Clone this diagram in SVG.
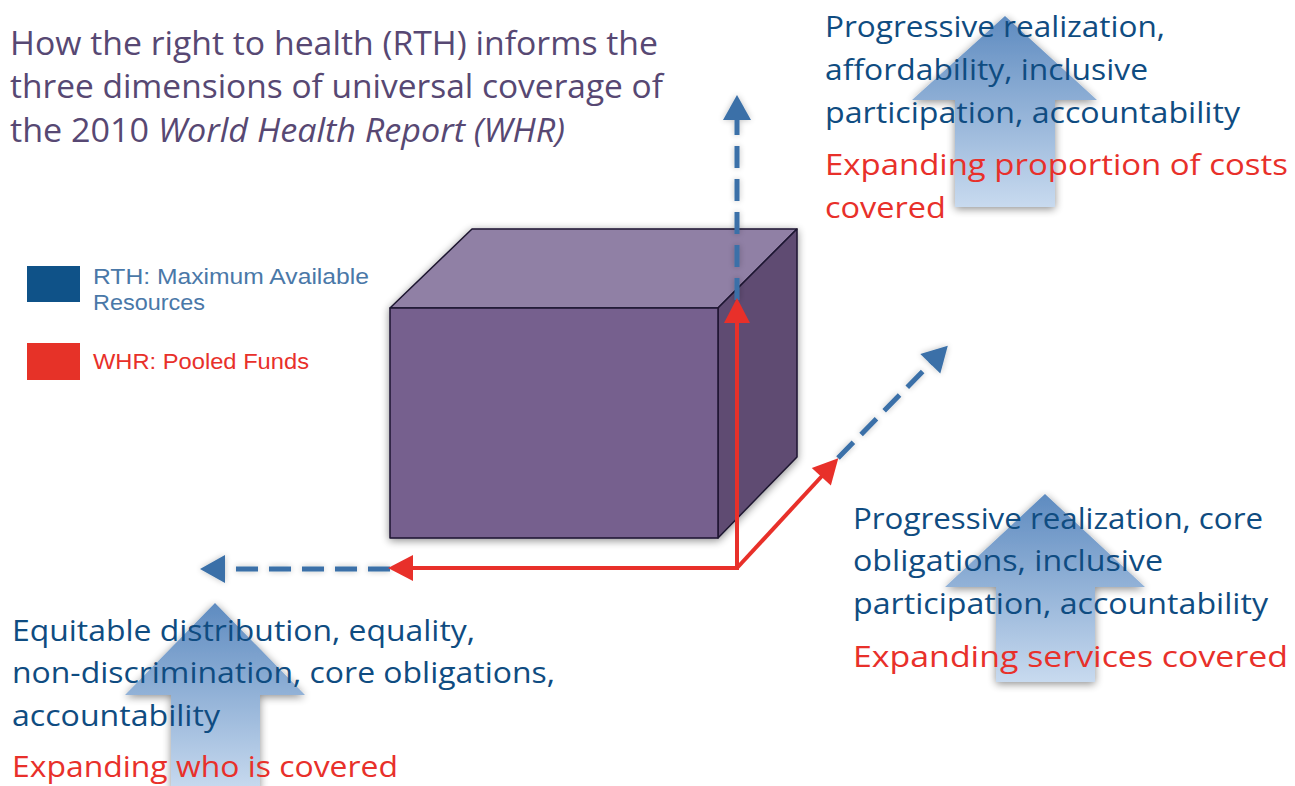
<svg xmlns="http://www.w3.org/2000/svg" width="1295" height="786" viewBox="0 0 1295 786">
  <style>
    .title { font-family: "Open Sans", "Liberation Sans", sans-serif; font-size: 32px; fill: #574873; }
    .body { font-family: "Open Sans", "Liberation Sans", sans-serif; font-size: 29px; fill: #0F4C81; }
    .red { fill: #E8302A; }
    .legend { font-family: "Liberation Sans", "Open Sans", sans-serif; font-size: 22px; }
    .blockarrow { fill: url(#bgrad); filter: url(#shadow); }
    .redline { stroke: #E8302A; stroke-width: 4; fill: none; }
    .blueline { stroke: #3A70A8; stroke-width: 5; fill: none; stroke-dasharray: 22 11; }
  </style>
  <defs>
    <linearGradient id="bgrad" x1="0" y1="0" x2="0" y2="1">
      <stop offset="0" stop-color="#5E8BC0"/>
      <stop offset="1" stop-color="#C8DAEF"/>
    </linearGradient>
    <filter id="shadow" x="-20%" y="-20%" width="140%" height="140%">
      <feGaussianBlur in="SourceAlpha" stdDeviation="4"/>
      <feOffset dx="0" dy="2" result="b"/>
      <feComponentTransfer><feFuncA type="linear" slope="0.45"/></feComponentTransfer>
      <feMerge><feMergeNode/><feMergeNode in="SourceGraphic"/></feMerge>
    </filter>
    <filter id="glow" x="-20%" y="-20%" width="140%" height="140%">
      <feGaussianBlur in="SourceAlpha" stdDeviation="3"/>
      <feComponentTransfer><feFuncA type="linear" slope="0.25"/></feComponentTransfer>
      <feMerge><feMergeNode/><feMergeNode in="SourceGraphic"/></feMerge>
    </filter>
    <marker id="redhead" markerUnits="userSpaceOnUse" markerWidth="30" markerHeight="30" refX="0" refY="0" orient="auto" overflow="visible">
      <path d="M-1,-13 L24,0 L-1,13 Z" fill="#E8302A"/>
    </marker>
    <marker id="bluehead" markerUnits="userSpaceOnUse" markerWidth="30" markerHeight="30" refX="0" refY="0" orient="auto" overflow="visible">
      <path d="M-1,-14 L24,0 L-1,14 Z" fill="#3A70A8"/>
    </marker>
  </defs>

  <rect width="1295" height="786" fill="#FFFFFF"/>

  <g id="title">
    <text class="title" x="10" y="55" textLength="648" lengthAdjust="spacingAndGlyphs">How the right to health (RTH) informs the</text>
    <text class="title" x="10" y="98" textLength="653" lengthAdjust="spacingAndGlyphs">three dimensions of universal coverage of</text>
    <text class="title" x="10" y="142" textLength="555" lengthAdjust="spacingAndGlyphs">the 2010 <tspan font-style="italic">World Health Report (WHR)</tspan></text>
  </g>

  <g id="legend">
    <rect x="27" y="266" width="53" height="36" fill="#0F5288"/>
    <text class="legend" x="93" y="284" fill="#4A78A8" textLength="276" lengthAdjust="spacingAndGlyphs">RTH: Maximum Available</text>
    <text class="legend" x="93" y="310" fill="#4A78A8" textLength="112" lengthAdjust="spacingAndGlyphs">Resources</text>
    <rect x="27" y="343" width="53" height="37" fill="#E63228"/>
    <text class="legend" x="93" y="369" fill="#E8302A" textLength="216" lengthAdjust="spacingAndGlyphs">WHR: Pooled Funds</text>
  </g>

  <g id="block-arrows">
    <polygon id="arrow-costs" class="blockarrow" points="1005,16 1097,100 1055,100 1055,207 955,207 955,100 912,100"/>
    <polygon id="arrow-services" class="blockarrow" points="1045,494 1145,587 1095,587 1095,682 996,682 996,587 945,587"/>
    <polygon id="arrow-who" class="blockarrow" points="215,603 305,695 260,695 260,790 171,790 171,695 125,695"/>
  </g>

  <g id="cube" filter="url(#shadow)" stroke="#1E1630" stroke-width="1.5" stroke-linejoin="round">
    <polygon points="390,308 472,229 797,229 718,308" fill="#9080A5"/>
    <polygon points="718,308 797,229 797,457 718,538" fill="#5E4C72"/>
    <rect x="390" y="308" width="328" height="230" fill="#76608E"/>
  </g>

  <g id="connectors">
    <g filter="url(#glow)">
      <path class="blueline" d="M737,300 L737,119" marker-end="url(#bluehead)"/>
      <path class="blueline" d="M390,569 L224,569" marker-end="url(#bluehead)"/>
      <path class="blueline" d="M838,458 L931,363" marker-end="url(#bluehead)"/>
    </g>
    <path class="redline" d="M737,568 L737,322" marker-end="url(#redhead)"/>
    <path class="redline" d="M739,568 L412,568" marker-end="url(#redhead)"/>
    <path class="redline" d="M737,568 L822,476" marker-end="url(#redhead)"/>
  </g>

  <g id="label-costs">
    <text class="body" x="825" y="37" textLength="340" lengthAdjust="spacingAndGlyphs">Progressive realization,</text>
    <text class="body" x="825" y="80" textLength="323" lengthAdjust="spacingAndGlyphs">affordability, inclusive</text>
    <text class="body" x="825" y="123" textLength="415" lengthAdjust="spacingAndGlyphs">participation, accountability</text>
    <text class="body red" x="825" y="175" textLength="463" lengthAdjust="spacingAndGlyphs">Expanding proportion of costs</text>
    <text class="body red" x="825" y="218" textLength="121" lengthAdjust="spacingAndGlyphs">covered</text>
  </g>

  <g id="label-services">
    <text class="body" x="853" y="529" textLength="410" lengthAdjust="spacingAndGlyphs">Progressive realization, core</text>
    <text class="body" x="853" y="571" textLength="310" lengthAdjust="spacingAndGlyphs">obligations, inclusive</text>
    <text class="body" x="853" y="614" textLength="415" lengthAdjust="spacingAndGlyphs">participation, accountability</text>
    <text class="body red" x="853" y="667" textLength="435" lengthAdjust="spacingAndGlyphs">Expanding services covered</text>
  </g>

  <g id="label-who">
    <text class="body" x="12" y="641" textLength="463" lengthAdjust="spacingAndGlyphs">Equitable distribution, equality,</text>
    <text class="body" x="12" y="683" textLength="543" lengthAdjust="spacingAndGlyphs">non-discrimination, core obligations,</text>
    <text class="body" x="12" y="726" textLength="208" lengthAdjust="spacingAndGlyphs">accountability</text>
    <text class="body red" x="12" y="777" textLength="386" lengthAdjust="spacingAndGlyphs">Expanding who is covered</text>
  </g>
</svg>
